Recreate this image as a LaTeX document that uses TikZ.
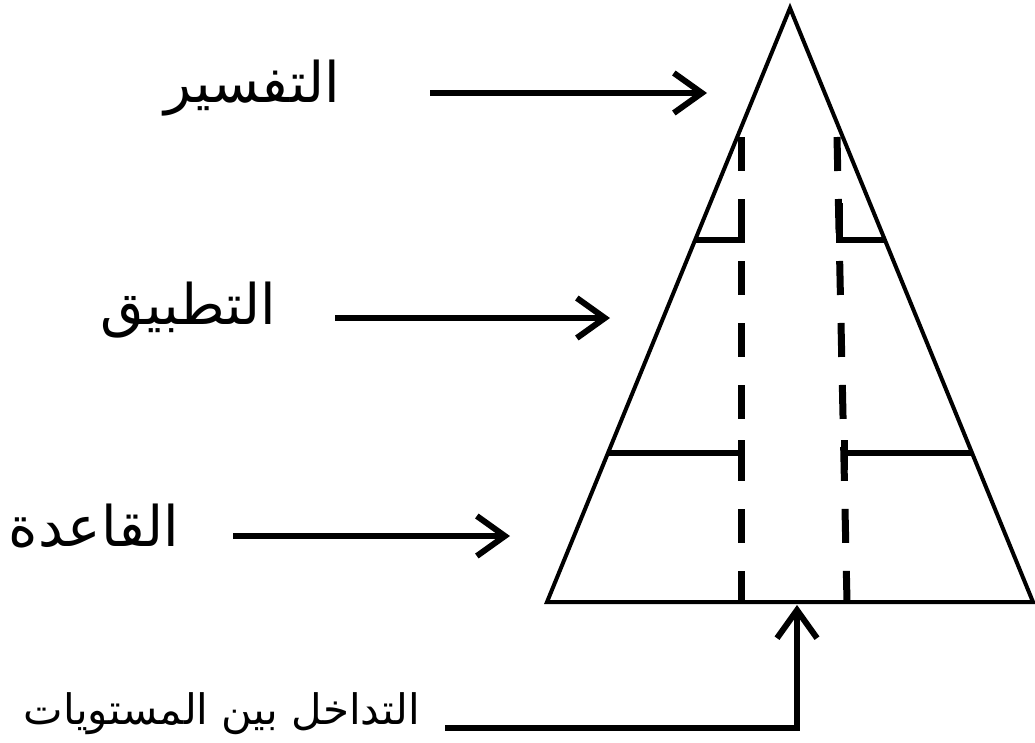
\documentclass[tikz,border=0pt]{standalone}
\usepackage{fontspec}
\newfontfamily\arabicfont[Script=Arabic]{DejaVu Sans}
\TeXXeTstate=1
\usepackage{tikz}
\usetikzlibrary{arrows.meta}
\tikzset{flow/.style={-{Straight Barb[length=28pt,width=40pt]},line width=6pt},side/.style={line width=4pt,line join=miter},level/.style={line width=5.5pt},overlap/.style={line width=7pt,dash pattern=on 34pt off 28pt},tick/.style={line width=7pt},lbl/.style={font=\arabicfont\fontsize{56}{66}\selectfont,inner sep=0pt},note/.style={font=\arabicfont\fontsize{42}{50}\selectfont,inner sep=0pt}}

\begin{document}
\begin{tikzpicture}[x=1pt,y=-1pt]
      \useasboundingbox (0,0) rectangle (1035,742);
      % triangle
      \coordinate(apex) at (790,8);\coordinate(bl) at (547,602);\coordinate(br) at (1033,602);
      \draw[side](apex)--(br)--(bl)--cycle;
      % overlap lines
      \coordinate(d1t) at (741,137);\coordinate(d1b) at (741,602);
      \coordinate(d2t) at (837,137);\coordinate(d2b) at (847,602);
      \draw[overlap](d1t)--(d1b);\draw[overlap](d2t)--(d2b);
      \coordinate(u1) at (695,240);\coordinate(u2) at (885,240);
      \coordinate(m1) at (608,453);\coordinate(m2) at (972,453);
      \coordinate(ua) at (741,240);\coordinate(ub) at (839,240);
      \coordinate(ma) at (741,453);\coordinate(mb) at (844,453);
      \draw[level](u1)--(ua);\draw[level](ub)--(u2);
      \draw[level](m1)--(ma);\draw[level](mb)--(m2);
      \draw[tick](741,203)--(741,243);\draw[tick](839,203)--(839,243);
      \draw[tick](741,440)--(741,470);\draw[tick](844,440)--(844,470);
      % labels and arrows
      \node[lbl](tafsir) at (252,88){\beginR التفسير\endR};
      \node[lbl](tatbiq) at (188,310){\beginR التطبيق\endR};
      \node[lbl](qaida) at (94,526){\beginR القاعدة\endR};
      \node[note](tadakhul) at (222,714){\beginR التداخل بين المستويات\endR};
      \coordinate(a1s) at (430,93);\coordinate(a1e) at (707,93);
      \coordinate(a2s) at (335,318);\coordinate(a2e) at (610,318);
      \coordinate(a3s) at (233,536);\coordinate(a3e) at (510,536);
      \coordinate(a4s) at (445,728);\coordinate(a4c) at (797,728);\coordinate(a4e) at (797,605);
      \draw[flow](a1s)--(a1e);\draw[flow](a2s)--(a2e);\draw[flow](a3s)--(a3e);
      \draw[flow](a4s)--(a4c)--(a4e);
    \end{tikzpicture}
\end{document}
